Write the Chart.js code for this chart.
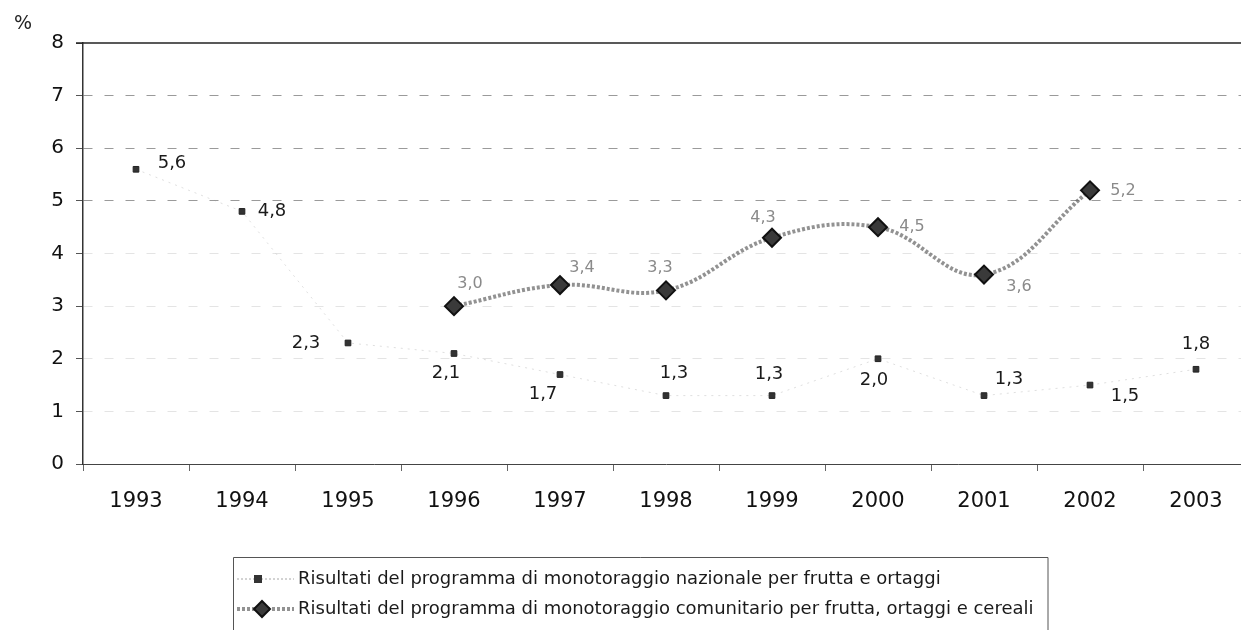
<!DOCTYPE html>
<html lang="it">
<head>
<meta charset="utf-8">
<title>Monitoraggio residui</title>
<script src="https://cdn.jsdelivr.net/npm/chart.js@4.4.1/dist/chart.umd.min.js"></script>
<style>
  html, body { margin: 0; padding: 0; background: #fff; overflow: hidden; }
  #wrap { width: 1260px; height: 630px; }
</style>
</head>
<body>
<div id="wrap"><canvas id="chart" width="1260" height="630"></canvas></div>
<script>
// dati
const anni = ['1993', '1994', '1995', '1996', '1997', '1998', '1999', '2000', '2001', '2002', '2003']
const nazionale = [5.6, 4.8, 2.3, 2.1, 1.7, 1.3, 1.3, 2.0, 1.3, 1.5, 1.8]
const comunitario = [null, null, null, 3.0, 3.4, 3.3, 4.3, 4.5, 3.6, 5.2, null]
const yTicks = [0, 1, 2, 3, 4, 5, 6, 7, 8]

const labelNaz = 'Risultati del programma di monotoraggio nazionale per frutta e ortaggi'
const labelCom = 'Risultati del programma di monotoraggio comunitario per frutta, ortaggi e cereali'

// spostamento delle etichette rispetto al punto (px)
const offNaz = [[36, -6], [30, 0], [-42, 0], [-8, 20], [-17, 20], [8, -22], [-3, -21], [-4, 22], [25, -16], [35, 11], [0, -25]]
const offCom = [null, null, null, [16, -22], [22, -17], [-6, -22], [-9, -20], [34, 0], [35, 12], [33, 0], null]

const FONT = '"DejaVu Sans", Verdana, sans-serif'

// etichette dei valori, con la virgola decimale
const valueLabels = {
  id: 'valueLabels',
  afterDatasetsDraw(chart) {
    const ctx = chart.ctx
    ctx.save()
    ctx.textAlign = 'center'
    ctx.textBaseline = 'middle'
    chart.data.datasets.forEach((ds, di) => {
      const meta = chart.getDatasetMeta(di)
      const offs = di === 0 ? offNaz : offCom
      ctx.font = di === 0 ? '18px ' + FONT : '16px ' + FONT
      ctx.fillStyle = di === 0 ? '#1a1a1a' : '#8a8a8a'
      ds.data.forEach((v, i) => {
        if (v == null || !offs[i]) return
        const p = meta.data[i]
        ctx.fillText(v.toFixed(1).replace('.', ','), p.x + offs[i][0], p.y + offs[i][1])
      })
    })
    ctx.restore()
  }
}

// linea superiore continua del riquadro (valore 8)
const topLine = {
  id: 'topLine',
  beforeDatasetsDraw(chart) {
    const { ctx, chartArea } = chart
    ctx.save()
    ctx.strokeStyle = '#222'
    ctx.lineWidth = 1.5
    ctx.beginPath()
    ctx.moveTo(chartArea.left - 7, chartArea.top)
    ctx.lineTo(chart.width, chartArea.top)
    ctx.stroke()
    ctx.restore()
  }
}

// unità di misura e legenda disegnate a mano
const extras = {
  id: 'extras',
  afterDraw(chart) {
    const ctx = chart.ctx
    ctx.save()
    ctx.fillStyle = '#222'
    ctx.font = '19px ' + FONT
    ctx.textBaseline = 'middle'
    ctx.fillText('%', 14, 24)

    // legenda
    const x0 = 233, y0 = 557, tx = 298
    ctx.font = '18px ' + FONT
    const w = Math.max(ctx.measureText(labelNaz).width, ctx.measureText(labelCom).width)
    const x1 = tx + w + 14
    ctx.strokeStyle = '#555'
    ctx.lineWidth = 1
    ctx.beginPath()
    ctx.moveTo(x0 + 0.5, 640)
    ctx.lineTo(x0 + 0.5, y0 + 0.5)
    ctx.lineTo(x1 + 0.5, y0 + 0.5)
    ctx.lineTo(x1 + 0.5, 640)
    ctx.stroke()

    // riga 1
    let y = 579
    ctx.strokeStyle = 'rgba(130,130,130,0.7)'
    ctx.setLineDash([2, 2])
    ctx.beginPath(); ctx.moveTo(x0 + 4, y); ctx.lineTo(tx - 4, y); ctx.stroke()
    ctx.setLineDash([])
    ctx.fillStyle = '#333'
    ctx.fillRect(254, y - 4, 8, 8)
    ctx.fillStyle = '#1a1a1a'
    ctx.fillText(labelNaz, tx, y)

    // riga 2
    y = 609
    ctx.strokeStyle = 'rgba(100,100,100,0.7)'
    ctx.lineWidth = 4
    ctx.setLineDash([3, 2])
    ctx.beginPath(); ctx.moveTo(x0 + 4, y); ctx.lineTo(tx - 4, y); ctx.stroke()
    ctx.setLineDash([])
    ctx.lineWidth = 2
    ctx.fillStyle = '#3a3a3a'
    ctx.strokeStyle = '#111'
    ctx.beginPath()
    ctx.moveTo(262, y - 8); ctx.lineTo(270, y); ctx.lineTo(262, y + 8); ctx.lineTo(254, y); ctx.closePath()
    ctx.fill(); ctx.stroke()
    ctx.fillStyle = '#1a1a1a'
    ctx.fillText(labelCom, tx, y)
    ctx.restore()
  }
}

new Chart(document.getElementById('chart'), {
  type: 'line',
  data: {
    labels: anni,
    datasets: [
      {
        label: labelNaz,
        data: nazionale,
        borderColor: 'rgba(150,150,150,0.3)',
        borderWidth: 1,
        borderDash: [2, 5],
        pointStyle: 'rect',
        pointRadius: 4,
        pointBackgroundColor: '#333',
        pointBorderColor: '#222',
        pointBorderWidth: 1,
        tension: 0
      },
      {
        label: labelCom,
        data: comunitario,
        borderColor: 'rgba(100,100,100,0.7)',
        borderWidth: 4,
        borderDash: [3, 2],
        pointStyle: 'rectRot',
        pointRadius: 9,
        pointBackgroundColor: '#3a3a3a',
        pointBorderColor: '#111',
        pointBorderWidth: 2,
        tension: 0.4
      }
    ]
  },
  options: {
    responsive: false,
    animation: false,
    devicePixelRatio: 1,
    layout: { padding: { top: 43, right: 5, left: 0, bottom: 0 } },
    plugins: {
      legend: { display: false },
      tooltip: { enabled: false }
    },
    scales: {
      x: {
        offset: true,
        afterFit: s => { s.height = 166 },
        border: { color: '#444', width: 1 },
        grid: { offset: true, drawOnChartArea: false, drawTicks: true, tickLength: 7, tickColor: '#666' },
        ticks: { color: '#111', padding: 18, font: { family: FONT, size: 21 }, maxRotation: 0 }
      },
      y: {
        min: 0,
        max: 8,
        afterFit: s => { s.width = 83 },
        afterBuildTicks: s => { s.ticks = yTicks.map(v => ({ value: v })) },
        border: { color: '#333', width: 1.5, dash: [9, 12] },
        grid: {
          color: ctx => {
            const v = ctx.tick ? ctx.tick.value : 0
            if (v === 8 || v === 0) return 'rgba(0,0,0,0)'
            return v >= 5 ? '#9a9a9a' : '#e4e4e4'
          },
          tickColor: '#555',
          tickLength: 7,
          tickBorderDash: []
        },
        ticks: { color: '#111', padding: 12, font: { family: FONT, size: 20 } }
      }
    }
  },
  plugins: [topLine, valueLabels, extras]
})
</script>
</body>
</html>
